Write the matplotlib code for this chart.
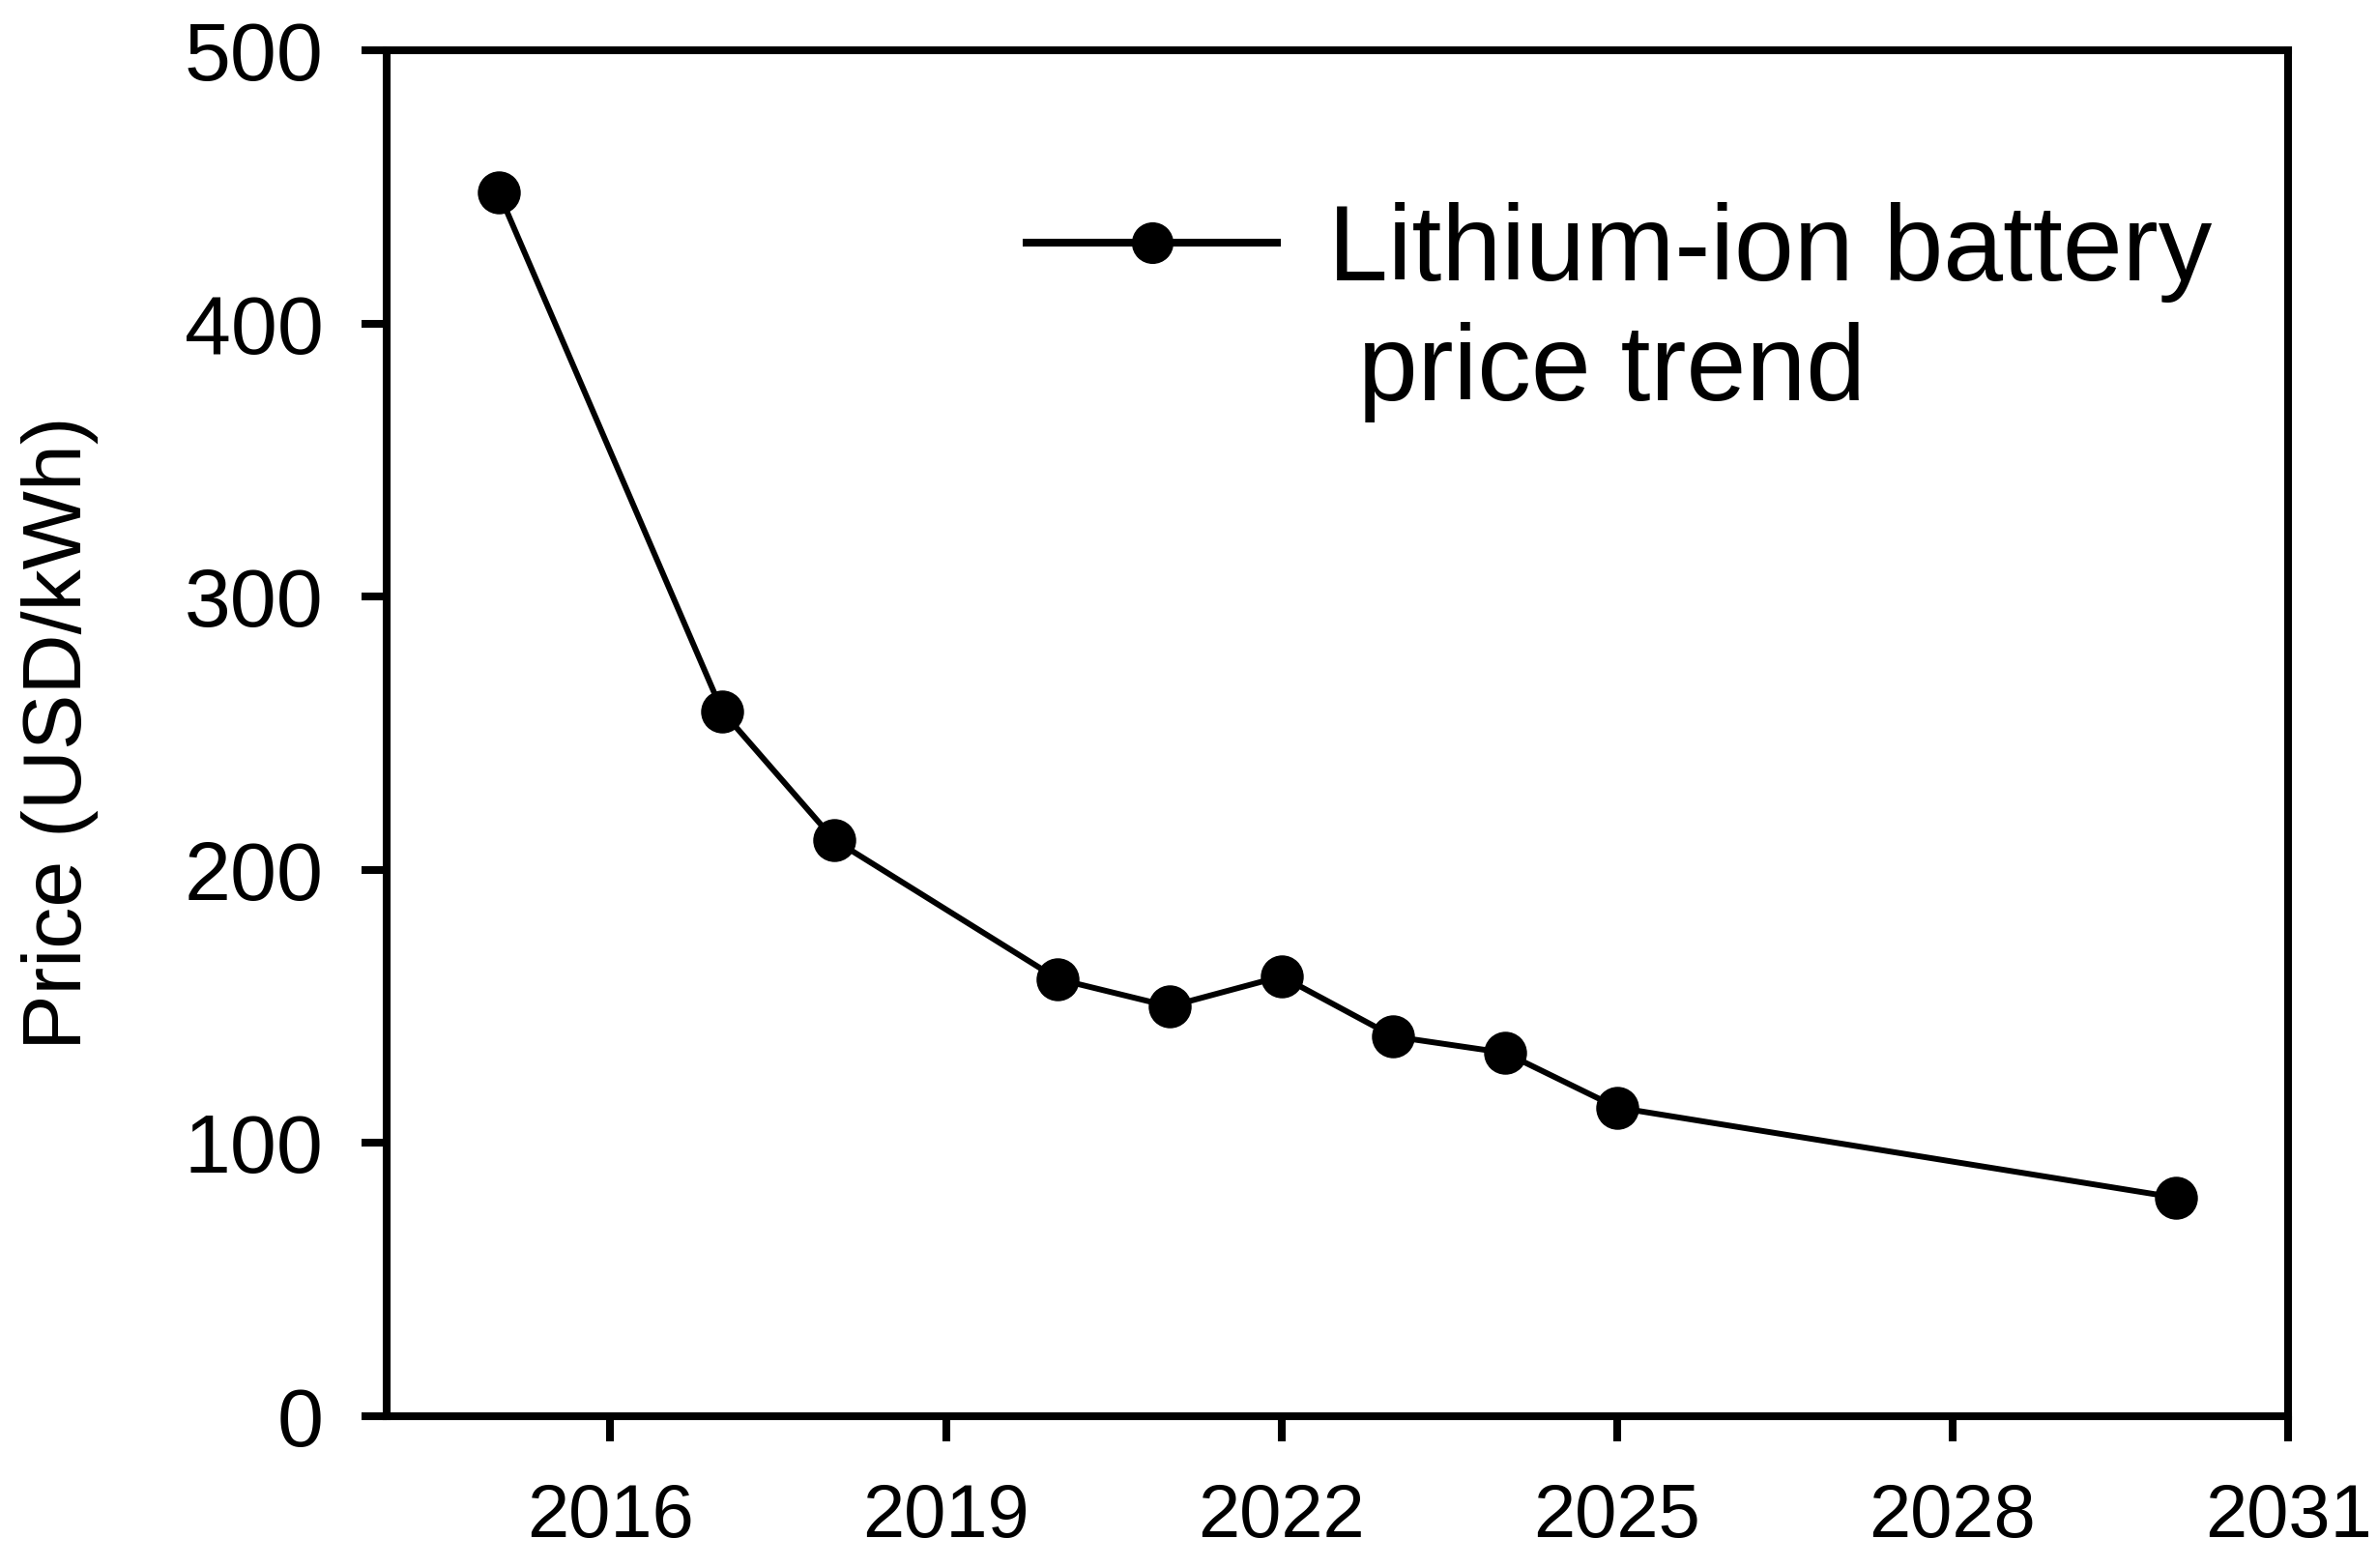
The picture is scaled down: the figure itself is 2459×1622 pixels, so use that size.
import matplotlib
matplotlib.use('Agg')
import matplotlib.pyplot as plt
from matplotlib.lines import Line2D

# values
years = [2015, 2017, 2018, 2020, 2021, 2022, 2023, 2024, 2025, 2030]
prices = [448, 258, 211, 160, 150, 161, 139, 133, 113, 80]
xticks = [2016, 2019, 2022, 2025, 2028, 2031]
yticks = [0, 100, 200, 300, 400, 500]

plt.rcParams['font.family'] = ['Liberation Sans', 'DejaVu Sans']

fig = plt.figure(figsize=(24.59, 16.22), dpi=100)
ax = fig.add_axes([0.1627, 0.0968, 0.7999, 0.8712])

ax.plot(years, prices, 'o-', color='black', linewidth=4.3, markersize=31,
        markeredgewidth=1.0, clip_on=False)

ax.set_xlim(2014, 2031)
ax.set_ylim(0, 500)
ax.set_xticks(xticks)
ax.set_yticks(yticks)

for s in ax.spines.values():
    s.set_linewidth(5.8)
ax.tick_params(axis='both', direction='out', length=19, width=5.8)
ax.tick_params(axis='y', labelsize=62, pad=28)
ax.tick_params(axis='x', labelsize=56, pad=30)

ax.set_ylabel('Price (USD/kWh)', fontsize=62)
ax.yaxis.set_label_coords(-0.1515, 0.5)

h1 = Line2D([], [], color='black', linewidth=5.8, marker='o', markersize=30)
h2 = Line2D([], [], linestyle='none')
ax.legend([h1, h2], ['Lithium-ion battery', ' price trend'], loc='upper left',
          bbox_to_anchor=(0.3366, 0.889), frameon=False, fontsize=80,
          handlelength=2.33, handletextpad=0.48, labelspacing=0.18,
          borderpad=0, borderaxespad=0)

fig.savefig('out.png', dpi=100)
